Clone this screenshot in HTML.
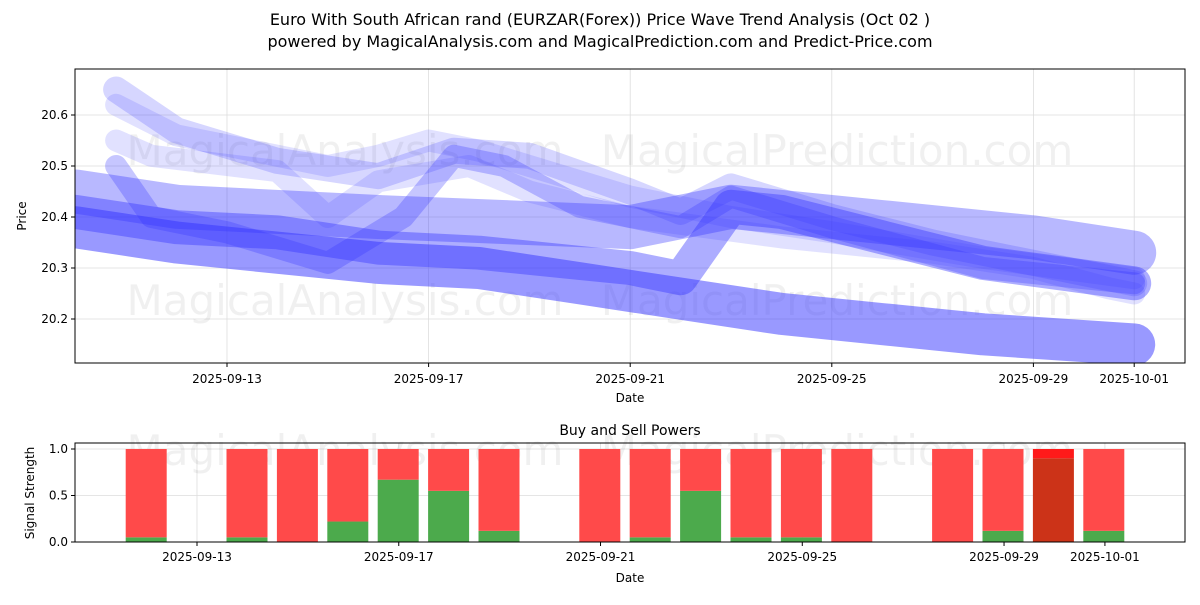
<!DOCTYPE html>
<html><head><meta charset="utf-8"><style>
body{margin:0;background:#fff;font-family:"Liberation Sans","DejaVu Sans",sans-serif}
svg text{font-family:"DejaVu Sans","Liberation Sans",sans-serif}
</style></head><body>
<svg id="c" width="1200" height="600" xmlns="http://www.w3.org/2000/svg">
<text x="600" y="25" text-anchor="middle" font-size="16">Euro With South African rand (EURZAR(Forex)) Price Wave Trend Analysis (Oct 02 )</text>
<text x="600" y="47" text-anchor="middle" font-size="16">powered by MagicalAnalysis.com and MagicalPrediction.com and Predict-Price.com</text>
<g id="topPanel"></g>
<g id="botPanel"></g>
</svg>
<script>
// day numbers: Sep 1 = 1, Oct 1 = 31
const tickDays=[13,17,21,25,29,31];
const tickLabels=["2025-09-13","2025-09-17","2025-09-21","2025-09-25","2025-09-29","2025-10-01"];
const yTicks=[20.2,20.3,20.4,20.5,20.6];
const bandDays=[
 [10,12,14,16,18,20,22,24,26,28,31],
 [10,12,14,16,18,20,21,22,23,24,26,28,31],
 [10.8,12,14,16,17.5,19,21,22,23,25,27,29,31],
 [10.8,11.5,13,15,16.5,17.5,18.5,20,22,23,25,28,31],
 [10,12,16,21,23,26,29,31],
 [10.8,11.5,14,15,16,17.8,19,21,22.5,24,27,29,30.5,31],
 [10.8,12,14,15,16,17,18,19,21,23,25,28,31]
];
const bandVals=[
 [20.38,20.35,20.33,20.31,20.30,20.27,20.24,20.21,20.19,20.17,20.15],
 [20.41,20.38,20.37,20.34,20.33,20.31,20.30,20.28,20.42,20.41,20.36,20.31,20.27],
 [20.65,20.57,20.51,20.48,20.53,20.52,20.45,20.41,20.46,20.40,20.35,20.31,20.27],
 [20.50,20.40,20.37,20.31,20.40,20.52,20.50,20.42,20.38,20.44,20.38,20.30,20.27],
 [20.45,20.42,20.40,20.38,20.42,20.39,20.36,20.33],
 [20.55,20.52,20.49,20.40,20.47,20.50,20.45,20.40,20.38,20.36,20.33,20.30,20.26,20.25],
 [20.62,20.56,20.52,20.50,20.52,20.55,20.53,20.50,20.44,20.40,20.37,20.32,20.28]
];
const bandWidths=[42,34,26,22,44,22,22];
const bandOps=[0.5,0.4,0.2,0.28,0.35,0.15,0.15];
const barDays=[11,13,14,15,16,17,18,20,21,22,23,24,25,27,28,29,30];
const buyVals=[0.05,0.05,0,0.22,0.67,0.55,0.12,0,0.05,0.55,0.05,0.05,0,0,0.12,0.9,0.12];
const sellVals=[0.95,0.95,1,0.78,0.33,0.45,0.88,1,0.95,0.45,0.95,0.95,1,1,0.88,0.1,0.88];

const NS="http://www.w3.org/2000/svg";
const L=75,R=1185;
const X=d=>227+(d-13)*50.4;
const XB=d=>197+(d-13)*50.44;
const Y=v=>319-(v-20.2)*510;
const YB=v=>542-v*93;
function mk(p,t,a){const e=document.createElementNS(NS,t);for(const k in a)e.setAttribute(k,a[k]);p.appendChild(e);return e;}
const topG=document.getElementById('topPanel'),botG=document.getElementById('botPanel');
tickDays.forEach(d=>{
 mk(topG,'line',{x1:X(d),x2:X(d),y1:69,y2:363,stroke:'#ddd','stroke-width':0.8});
 mk(botG,'line',{x1:XB(d),x2:XB(d),y1:443,y2:542,stroke:'#ddd','stroke-width':0.8});
});
yTicks.forEach(v=>mk(topG,'line',{x1:L,x2:R,y1:Y(v),y2:Y(v),stroke:'#ddd','stroke-width':0.8}));
[0,0.5,1].forEach(v=>mk(botG,'line',{x1:L,x2:R,y1:YB(v),y2:YB(v),stroke:'#ddd','stroke-width':0.8}));
[[345,150],[837,150],[345,300],[837,300]].forEach(p=>{const t=mk(topG,'text',{x:p[0],y:p[1]+15,'text-anchor':'middle','font-size':42,fill:'#000','fill-opacity':0.06});t.textContent=p[0]<500?'MagicalAnalysis.com':'MagicalPrediction.com';});
[[345,450],[837,450]].forEach(p=>{const t=mk(botG,'text',{x:p[0],y:p[1]+15,'text-anchor':'middle','font-size':42,fill:'#000','fill-opacity':0.06});t.textContent=p[0]<500?'MagicalAnalysis.com':'MagicalPrediction.com';});
const cp=mk(topG,'clipPath',{id:'cp'});mk(cp,'rect',{x:L,y:69,width:R-L,height:294});
const bandsG=mk(topG,'g',{'clip-path':'url(#cp)'});
bandDays.forEach((ds,i)=>{
 const pts=ds.map((d,j)=>X(d)+','+Y(bandVals[i][j])).join(' ');
 const pl=mk(bandsG,'polyline',{points:pts,fill:'none',stroke:'#3333ff','stroke-opacity':bandOps[i],'stroke-width':bandWidths[i],'stroke-linejoin':'round','stroke-linecap':'round'});
 
 
});
mk(topG,'rect',{x:L,y:69,width:R-L,height:294,fill:'none',stroke:'#000','stroke-width':1});
tickDays.forEach((d,i)=>{mk(topG,'line',{x1:X(d),x2:X(d),y1:363,y2:367,stroke:'#000'});const t=mk(topG,'text',{x:X(d),y:383,'text-anchor':'middle','font-size':12});t.textContent=tickLabels[i];});
yTicks.forEach(v=>{mk(topG,'line',{x1:L-4,x2:L,y1:Y(v),y2:Y(v),stroke:'#000'});const t=mk(topG,'text',{x:L-7,y:Y(v)+4,'text-anchor':'end','font-size':12});t.textContent=v.toFixed(1);});
let tx=mk(topG,'text',{x:630,y:402,'text-anchor':'middle','font-size':12});tx.textContent='Date';
tx=mk(topG,'text',{x:26,y:216,'text-anchor':'middle','font-size':12,transform:'rotate(-90 26 216)'});tx.textContent='Price';
barDays.forEach((d,i)=>{
 const cx=X(d)+20,w=41;
 const special=i===15;
 const b=mk(botG,'rect',{x:cx-w/2,y:YB(buyVals[i]),width:w,height:YB(0)-YB(buyVals[i]),fill:special?'#cc3318':'#4caa4c'});
 
 
 const s=mk(botG,'rect',{x:cx-w/2,y:YB(buyVals[i]+sellVals[i]),width:w,height:YB(buyVals[i])-YB(buyVals[i]+sellVals[i]),fill:special?'#ff1a1a':'#ff4a4a'});
 
 
});
mk(botG,'rect',{x:L,y:443,width:R-L,height:99,fill:'none',stroke:'#000','stroke-width':1});
tickDays.forEach((d,i)=>{mk(botG,'line',{x1:XB(d),x2:XB(d),y1:542,y2:546,stroke:'#000'});const t=mk(botG,'text',{x:XB(d),y:561,'text-anchor':'middle','font-size':12});t.textContent=tickLabels[i];});
[0,0.5,1].forEach(v=>{mk(botG,'line',{x1:L-4,x2:L,y1:YB(v),y2:YB(v),stroke:'#000'});const t=mk(botG,'text',{x:L-7,y:YB(v)+4,'text-anchor':'end','font-size':12});t.textContent=v.toFixed(1);});
tx=mk(botG,'text',{x:630,y:435,'text-anchor':'middle','font-size':14});tx.textContent='Buy and Sell Powers';
tx=mk(botG,'text',{x:630,y:582,'text-anchor':'middle','font-size':12});tx.textContent='Date';
tx=mk(botG,'text',{x:34,y:493,'text-anchor':'middle','font-size':12,transform:'rotate(-90 34 493)'});tx.textContent='Signal Strength';
</script>
</body></html>
